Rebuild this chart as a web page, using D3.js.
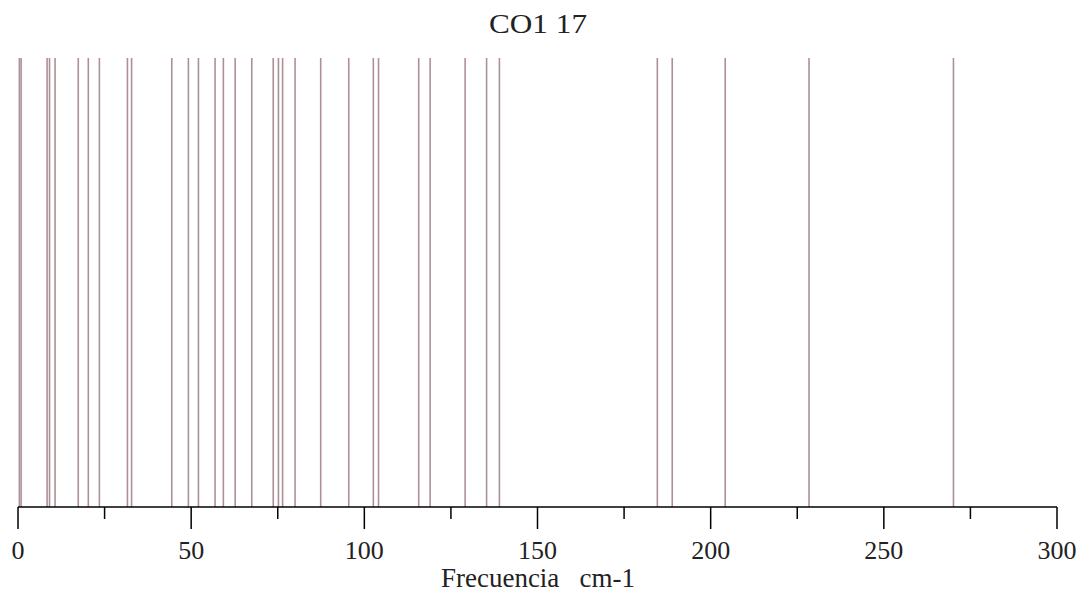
<!DOCTYPE html>
<html>
<head>
<meta charset="utf-8">
<script src="https://cdn.jsdelivr.net/npm/d3@7"></script>
<style>
  html, body { margin: 0; padding: 0; background: #fff; }
</style>
</head>
<body>
<svg id="chart" width="1084" height="595"></svg>
<script>
const frequencies = [0.4, 0.9, 8.4, 9.1, 10.7, 17.4, 20.3, 23.5, 31.6, 32.8, 44.4,
  49.2, 52.1, 56.9, 59.3, 62.7, 67.5, 73.7, 75.2, 76.4, 80.0, 87.4, 95.5,
  102.6, 104.1, 115.7, 119.0, 129.1, 135.3, 139.0, 184.6, 188.9, 204.2, 228.4, 270.1];
const majorTicks = [0, 50, 100, 150, 200, 250, 300];
const minorTicks = [25, 75, 125, 175, 225, 275];
const title = "CO1 17";
const xLabel = "Frecuencia\u00a0\u00a0\u00a0cm-1";

const svg = d3.select('#chart');
const axisY = 507, topY = 58;
const serif = 'Liberation Serif';
const x = d3.scaleLinear().domain([0, 300]).range([18, 1057]);

// lineas del espectro
svg.append('g').selectAll('line').data(frequencies).join('line')
  .attr('x1', d => x(d)).attr('x2', d => x(d))
  .attr('y1', topY).attr('y2', axisY)
  .attr('stroke', '#ad9096').attr('stroke-width', 1.6);

// eje x
const axis = svg.append('g').attr('transform', `translate(0,${axisY})`);
axis.append('line').attr('x1', x(0)).attr('x2', x(300))
  .attr('stroke', '#000').attr('stroke-width', 1.5);
axis.selectAll('line.minor').data(minorTicks).join('line').attr('class', 'minor')
  .attr('x1', d => x(d)).attr('x2', d => x(d)).attr('y1', 0).attr('y2', 12)
  .attr('stroke', '#000').attr('stroke-width', 1.5);
axis.selectAll('line.major').data(majorTicks).join('line').attr('class', 'major')
  .attr('x1', d => x(d)).attr('x2', d => x(d)).attr('y1', 0).attr('y2', 22)
  .attr('stroke', '#000').attr('stroke-width', 1.5);
axis.selectAll('text').data(majorTicks).join('text')
  .attr('x', d => x(d)).attr('y', 52)
  .attr('text-anchor', 'middle').attr('font-size', 26).attr('fill', '#222')
  .attr('font-family', serif)
  .text(d => d);

svg.append('text').attr('x', 538).attr('y', 587).attr('text-anchor', 'middle')
  .attr('font-size', 27).attr('fill', '#222').attr('font-family', serif)
  .attr('textLength', 194).attr('lengthAdjust', 'spacingAndGlyphs').text(xLabel);
svg.append('text').attr('x', 538).attr('y', 33).attr('text-anchor', 'middle')
  .attr('font-size', 27).attr('fill', '#222').attr('font-family', serif)
  .attr('textLength', 98).attr('lengthAdjust', 'spacingAndGlyphs').text(title);
</script>
</body>
</html>
